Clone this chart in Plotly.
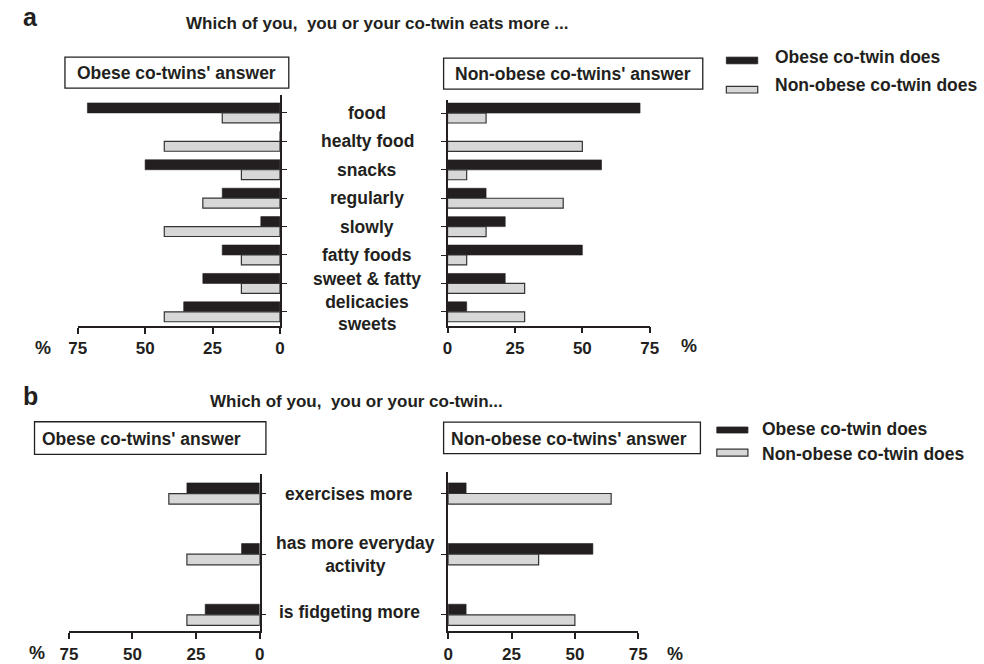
import plotly.graph_objects as go

W, H = 984, 664


def px(x):
    return x / W


def py(y):
    return 1 - y / H


# ---------------- data ----------------
cats_a = ["food", "healty food", "snacks", "regularly", "slowly",
          "fatty foods", "sweet & fatty delicacies", "sweets"]
labels_a = ["food", "healty food", "snacks", "regularly", "slowly",
            "fatty foods", "sweet & fatty<br>delicacies", "sweets"]
# panel a, obese co-twins' answer
a_obese_says_obese = [71.4, 0.0, 50.0, 21.4, 7.1, 21.4, 28.6, 35.7]
a_obese_says_nonobese = [21.4, 42.9, 14.3, 28.6, 42.9, 14.3, 14.3, 42.9]
# panel a, non-obese co-twins' answer
a_non_says_obese = [71.4, 0.0, 57.1, 14.3, 21.4, 50.0, 21.4, 7.1]
a_non_says_nonobese = [14.3, 50.0, 7.1, 42.9, 14.3, 7.1, 28.6, 28.6]

cats_b = ["exercises more", "has more everyday activity", "is fidgeting more"]
labels_b = ["exercises more", "has more everyday<br>activity", "is fidgeting more"]
b_obese_says_obese = [28.6, 7.1, 21.4]
b_obese_says_nonobese = [35.7, 28.6, 28.6]
b_non_says_obese = [7.1, 57.1, 7.1]
b_non_says_nonobese = [64.3, 35.7, 50.0]

tick_vals = [0, 25, 50, 75]
tick_text = ["0", "25", "50", "75"]

series_names = ["Obese co-twin does", "Non-obese co-twin does"]

# ---------------- style ----------------
INK = "#231f20"
BLACK = "#231f20"
GREY = "#d7d7d7"
GREY_EDGE = "#333333"
FONT = "Liberation Sans, Arial, sans-serif"

fig = go.Figure()


def add_pair(xa, ya, cats, v_black, v_grey, w):
    fig.add_trace(go.Bar(
        y=cats, x=v_black, orientation="h", xaxis=xa, yaxis=ya,
        name=series_names[0], showlegend=False,
        width=w, offset=-w,
        marker=dict(color=BLACK, line=dict(color=BLACK, width=0.6)),
    ))
    fig.add_trace(go.Bar(
        y=cats, x=v_grey, orientation="h", xaxis=xa, yaxis=ya,
        name=series_names[1], showlegend=False,
        width=w, offset=0,
        marker=dict(color=GREY, line=dict(color=GREY_EDGE, width=1.2)),
    ))


wa = 0.35
wb = 0.175
add_pair("x", "y", cats_a, a_obese_says_obese, a_obese_says_nonobese, wa)
add_pair("x2", "y2", cats_a, a_non_says_obese, a_non_says_nonobese, wa)
add_pair("x3", "y3", cats_b, b_obese_says_obese, b_obese_says_nonobese, wb)
add_pair("x4", "y4", cats_b, b_non_says_obese, b_non_says_nonobese, wb)


def xax(x0, x1, rev, anchor):
    return dict(
        domain=[px(x0), px(x1)], anchor=anchor,
        range=[75, 0] if rev else [0, 75],
        tickmode="array", tickvals=tick_vals, ticktext=tick_text,
        showline=True, linecolor=INK, linewidth=1.5,
        ticks="outside", ticklen=6, tickwidth=1.5, tickcolor=INK,
        tickfont=dict(family=FONT, size=17, color=INK, weight="bold"),
        showgrid=False, zeroline=False, fixedrange=True,
    )


def yax(y0, y1, rng, side, anchor, cats):
    return dict(
        domain=[py(y1), py(y0)], anchor=anchor, side=side,
        type="category", categoryorder="array", categoryarray=cats,
        range=rng, showticklabels=False,
        showline=True, linecolor=INK, linewidth=1.5,
        ticks="outside", ticklen=5, tickwidth=1.2, tickcolor=INK,
        showgrid=False, zeroline=False, fixedrange=True,
    )


fig.update_layout(
    width=W, height=H,
    margin=dict(l=0, r=0, t=0, b=0),
    paper_bgcolor="white", plot_bgcolor="rgba(0,0,0,0)",
    barmode="overlay",
    showlegend=False,
    font=dict(family=FONT, color=INK),
    xaxis=xax(70, 276, True, "y"),
    yaxis=yax(95, 327, [7.5, -0.64], "right", "x", cats_a),
    xaxis2=xax(446.7, 652.7, False, "y2"),
    yaxis2=yax(100, 326.7, [7.49, -0.47], "left", "x2", cats_a),
    xaxis3=xax(61, 255.3, True, "y3"),
    yaxis3=yax(475, 633.3, [2.273, -0.329], "right", "x3", cats_b),
    xaxis4=xax(447.3, 641, False, "y4"),
    yaxis4=yax(473.3, 633.3, [2.273, -0.357], "left", "x4", cats_b),
)

ann = []
shapes = []


def text(x, y, s, size=17.5, xanchor="left", yanchor="middle", xref="paper", yref="paper", yshift=0, align="left"):
    ann.append(dict(
        x=px(x) if xref == "paper" else x,
        y=py(y) if yref == "paper" else y,
        xref=xref, yref=yref, text=s, showarrow=False,
        xanchor=xanchor, yanchor=yanchor, yshift=yshift, align=align,
        font=dict(family=FONT, size=size, color=INK, weight="bold"),
    ))


# panel letters and titles
text(12, 17, "a", size=25)
text(178, 24, "Which of you,\u00a0 you or your co-twin eats more ...", size=17)
text(12, 397, "b", size=25)
text(202.7, 403, "Which of you,\u00a0 you or your co-twin...", size=17)

# boxes


def box(x0, y0, x1, y1):
    shapes.append(dict(type="rect", xref="paper", yref="paper",
                       x0=px(x0), x1=px(x1), y0=py(y1), y1=py(y0),
                       line=dict(color=INK, width=1.3), fillcolor="white"))


box(57, 57.3, 285, 88.3)
text(171, 73, "Obese co-twins' answer", xanchor="center")
box(442.7, 58.3, 706.7, 89.3)
text(574.7, 74, "Non-obese co-twins' answer", xanchor="center")
box(26, 423, 261.7, 455.7)
text(31.7, 440, "Obese co-twins' answer")
box(442.7, 423.3, 704.3, 455)
text(448.3, 440, "Non-obese co-twins' answer")

# legends


def legend(xs, ys_black, ys_grey, xt, yt1, yt2):
    shapes.append(dict(type="rect", xref="paper", yref="paper",
                       x0=px(xs[0]), x1=px(xs[1]), y0=py(ys_black[1]), y1=py(ys_black[0]),
                       line=dict(color=BLACK, width=0.8), fillcolor=BLACK))
    shapes.append(dict(type="rect", xref="paper", yref="paper",
                       x0=px(xs[0]), x1=px(xs[1]), y0=py(ys_grey[1]), y1=py(ys_grey[0]),
                       line=dict(color=GREY_EDGE, width=1.2), fillcolor=GREY))
    text(xt, yt1, series_names[0])
    text(xt, yt2, series_names[1])


legend((730.7, 762.7), (57.3, 64), (86.7, 93.3), 778.3, 57, 85)
legend((721, 752.7), (428.3, 434.3), (450.5, 457.5), 765, 430, 455.5)

# category labels
for c, lab in zip(cats_a, labels_a):
    shift = 0
    if c == "sweet & fatty delicacies":
        shift = -7
    elif c == "sweets":
        shift = -12
    text(365, c, lab, xanchor="center", yref="y", yshift=shift, align="center")
for c, lab in zip(cats_b, labels_b):
    xc = 353 if "everyday" in c else 346.5
    shift = 0
    if "fidgeting" in c:
        shift = 3
    text(xc, c, lab, xanchor="center", yref="y3", yshift=shift, align="center")

# percent signs
text(35, 349, "%", size=18, xanchor="center")
text(693, 347, "%", size=18, xanchor="center")
text(28.3, 655, "%", size=18, xanchor="center")
text(678, 656, "%", size=18, xanchor="center")

fig.update_layout(annotations=ann, shapes=shapes)
fig.write_html("out.html")
